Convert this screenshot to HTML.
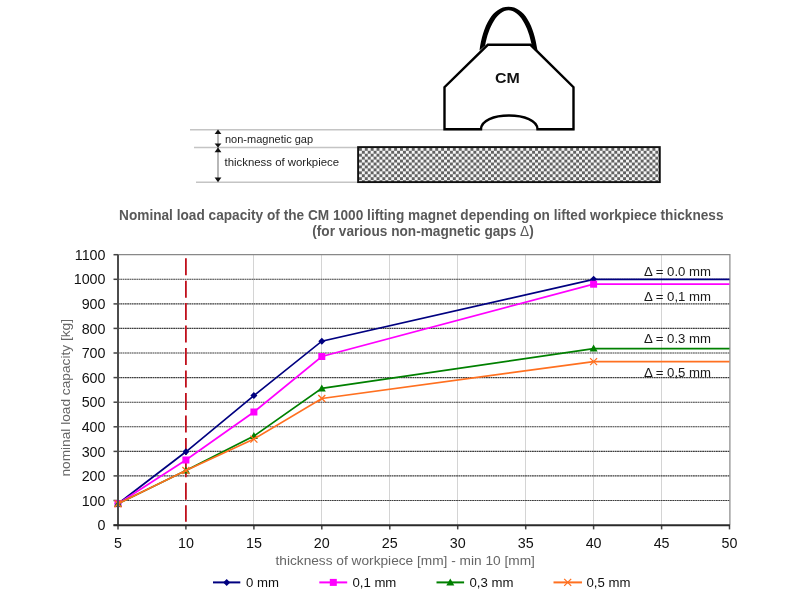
<!DOCTYPE html>
<html><head><meta charset="utf-8"><style>
html,body{margin:0;padding:0;background:#fff;width:800px;height:600px;overflow:hidden}
svg{display:block;font-family:"Liberation Sans",sans-serif;will-change:transform}
</style></head><body>
<svg width="800" height="600" viewBox="0 0 800 600">
<rect width="800" height="600" fill="#fff"/>

<defs>
<pattern id="chk" x="0.86" y="4.04" width="5.87" height="5.87" patternUnits="userSpaceOnUse">
<rect width="5.87" height="5.87" fill="#626262"/>
<rect x="0" y="0" width="2.935" height="2.935" fill="#f6f6f6"/>
<rect x="2.935" y="2.935" width="2.935" height="2.935" fill="#f6f6f6"/>
</pattern>
</defs>
<line x1="190" y1="129.8" x2="574" y2="129.8" stroke="#c4c4c4" stroke-width="1.4"/>
<line x1="194" y1="147.5" x2="358" y2="147.5" stroke="#c4c4c4" stroke-width="1.4"/>
<line x1="196" y1="182.3" x2="358" y2="182.3" stroke="#c4c4c4" stroke-width="1.4"/>
<line x1="218" y1="132" x2="218" y2="180" stroke="#888" stroke-width="1.2"/>
<path d="M218 129.6L214.6 134L221.4 134Z" fill="#111"/>
<path d="M218 147.5L214.6 143.6L221.4 143.6Z" fill="#111"/>
<path d="M218 147.5L214.6 152.2L221.4 152.2Z" fill="#111"/>
<path d="M218 182.2L214.6 177.5L221.4 177.5Z" fill="#111"/>
<text x="225" y="143" font-size="11" fill="#222">non-magnetic gap</text>
<text x="224.5" y="166.3" font-size="11.4" fill="#222">thickness of workpiece</text>
<rect x="358.1" y="147.1" width="301.7" height="35" fill="url(#chk)" stroke="#111" stroke-width="1.9"/>
<path d="M444.5 129.3 L444.5 87.2 L487.8 44.8 L530.5 44.8 L573.5 87.2 L573.5 129.3 L537.5 129.3 C537.5 120.5 524 115.5 509 115.5 C494 115.5 481 120.5 481 129.3 Z" fill="#fff" stroke="#000" stroke-width="2.4" stroke-linejoin="miter"/>
<path fill-rule="evenodd" fill="#000" d="M479.5 50.5 C483 26 492.5 6.8 508.5 6.8 C524.5 6.8 534 26 537.5 50.5 L531.8 45.5 C528.5 27 519.5 10.3 508.5 10.3 C497.5 10.3 488.5 27 485.2 45.5 Z"/>
<text transform="translate(507.4 82.75) scale(1.1 1)" font-size="14.5" font-weight="bold" fill="#111" text-anchor="middle">CM</text>

<text transform="translate(421.3 219.8) scale(0.962 1)" font-size="14.2" font-weight="bold" fill="#595959" text-anchor="middle">Nominal load capacity of the CM 1000 lifting magnet depending on lifted workpiece thickness</text>
<text transform="translate(423 235.6) scale(0.962 1)" font-size="14.2" font-weight="bold" fill="#595959" text-anchor="middle">(for various non-magnetic gaps <tspan font-weight="normal">Δ</tspan>)</text>
<line x1="253.5" y1="254.7" x2="253.5" y2="525" stroke="#d4d4d4" stroke-width="1"/>
<line x1="321.5" y1="254.7" x2="321.5" y2="525" stroke="#d4d4d4" stroke-width="1"/>
<line x1="389.5" y1="254.7" x2="389.5" y2="525" stroke="#d4d4d4" stroke-width="1"/>
<line x1="457.5" y1="254.7" x2="457.5" y2="525" stroke="#d4d4d4" stroke-width="1"/>
<line x1="525.5" y1="254.7" x2="525.5" y2="525" stroke="#d4d4d4" stroke-width="1"/>
<line x1="593.5" y1="254.7" x2="593.5" y2="525" stroke="#d4d4d4" stroke-width="1"/>
<line x1="661.5" y1="254.7" x2="661.5" y2="525" stroke="#d4d4d4" stroke-width="1"/>
<line x1="118" y1="500.5" x2="729.9" y2="500.5" stroke="#3c3c3c" stroke-width="1.1" stroke-dasharray="1.8 0.5"/>
<line x1="118" y1="475.9" x2="729.9" y2="475.9" stroke="#3c3c3c" stroke-width="1.1" stroke-dasharray="1.8 0.5"/>
<line x1="118" y1="451.4" x2="729.9" y2="451.4" stroke="#3c3c3c" stroke-width="1.1" stroke-dasharray="1.8 0.5"/>
<line x1="118" y1="426.8" x2="729.9" y2="426.8" stroke="#3c3c3c" stroke-width="1.1" stroke-dasharray="1.8 0.5"/>
<line x1="118" y1="402.2" x2="729.9" y2="402.2" stroke="#3c3c3c" stroke-width="1.1" stroke-dasharray="1.8 0.5"/>
<line x1="118" y1="377.6" x2="729.9" y2="377.6" stroke="#3c3c3c" stroke-width="1.1" stroke-dasharray="1.8 0.5"/>
<line x1="118" y1="353.0" x2="729.9" y2="353.0" stroke="#3c3c3c" stroke-width="1.1" stroke-dasharray="1.8 0.5"/>
<line x1="118" y1="328.4" x2="729.9" y2="328.4" stroke="#3c3c3c" stroke-width="1.1" stroke-dasharray="1.8 0.5"/>
<line x1="118" y1="303.9" x2="729.9" y2="303.9" stroke="#3c3c3c" stroke-width="1.1" stroke-dasharray="1.8 0.5"/>
<line x1="118" y1="279.3" x2="729.9" y2="279.3" stroke="#3c3c3c" stroke-width="1.1" stroke-dasharray="1.8 0.5"/>
<path d="M118 254.7H729.9V525" fill="none" stroke="#888" stroke-width="1.2"/>
<line x1="185.9" y1="258.2" x2="185.9" y2="521.8" stroke="#c0101c" stroke-width="1.8" stroke-dasharray="17 5.46"/>
<line x1="113.5" y1="525.1" x2="118" y2="525.1" stroke="#444" stroke-width="1.5"/>
<text x="105.5" y="530.2" font-size="14.3" fill="#111" text-anchor="end">0</text>
<line x1="113.5" y1="500.5" x2="118" y2="500.5" stroke="#444" stroke-width="1.5"/>
<text x="105.5" y="505.6" font-size="14.3" fill="#111" text-anchor="end">100</text>
<line x1="113.5" y1="475.9" x2="118" y2="475.9" stroke="#444" stroke-width="1.5"/>
<text x="105.5" y="481.0" font-size="14.3" fill="#111" text-anchor="end">200</text>
<line x1="113.5" y1="451.4" x2="118" y2="451.4" stroke="#444" stroke-width="1.5"/>
<text x="105.5" y="456.5" font-size="14.3" fill="#111" text-anchor="end">300</text>
<line x1="113.5" y1="426.8" x2="118" y2="426.8" stroke="#444" stroke-width="1.5"/>
<text x="105.5" y="431.9" font-size="14.3" fill="#111" text-anchor="end">400</text>
<line x1="113.5" y1="402.2" x2="118" y2="402.2" stroke="#444" stroke-width="1.5"/>
<text x="105.5" y="407.3" font-size="14.3" fill="#111" text-anchor="end">500</text>
<line x1="113.5" y1="377.6" x2="118" y2="377.6" stroke="#444" stroke-width="1.5"/>
<text x="105.5" y="382.7" font-size="14.3" fill="#111" text-anchor="end">600</text>
<line x1="113.5" y1="353.0" x2="118" y2="353.0" stroke="#444" stroke-width="1.5"/>
<text x="105.5" y="358.1" font-size="14.3" fill="#111" text-anchor="end">700</text>
<line x1="113.5" y1="328.4" x2="118" y2="328.4" stroke="#444" stroke-width="1.5"/>
<text x="105.5" y="333.5" font-size="14.3" fill="#111" text-anchor="end">800</text>
<line x1="113.5" y1="303.9" x2="118" y2="303.9" stroke="#444" stroke-width="1.5"/>
<text x="105.5" y="309.0" font-size="14.3" fill="#111" text-anchor="end">900</text>
<line x1="113.5" y1="279.3" x2="118" y2="279.3" stroke="#444" stroke-width="1.5"/>
<text x="105.5" y="284.4" font-size="14.3" fill="#111" text-anchor="end">1000</text>
<line x1="113.5" y1="254.7" x2="118" y2="254.7" stroke="#444" stroke-width="1.5"/>
<text x="105.5" y="259.8" font-size="14.3" fill="#111" text-anchor="end">1100</text>
<line x1="118.0" y1="525" x2="118.0" y2="529.4" stroke="#444" stroke-width="1.5"/>
<text x="118.0" y="547.8" font-size="14.3" fill="#111" text-anchor="middle">5</text>
<line x1="185.9" y1="525" x2="185.9" y2="529.4" stroke="#444" stroke-width="1.5"/>
<text x="185.9" y="547.8" font-size="14.3" fill="#111" text-anchor="middle">10</text>
<line x1="253.9" y1="525" x2="253.9" y2="529.4" stroke="#444" stroke-width="1.5"/>
<text x="253.9" y="547.8" font-size="14.3" fill="#111" text-anchor="middle">15</text>
<line x1="321.8" y1="525" x2="321.8" y2="529.4" stroke="#444" stroke-width="1.5"/>
<text x="321.8" y="547.8" font-size="14.3" fill="#111" text-anchor="middle">20</text>
<line x1="389.8" y1="525" x2="389.8" y2="529.4" stroke="#444" stroke-width="1.5"/>
<text x="389.8" y="547.8" font-size="14.3" fill="#111" text-anchor="middle">25</text>
<line x1="457.7" y1="525" x2="457.7" y2="529.4" stroke="#444" stroke-width="1.5"/>
<text x="457.7" y="547.8" font-size="14.3" fill="#111" text-anchor="middle">30</text>
<line x1="525.7" y1="525" x2="525.7" y2="529.4" stroke="#444" stroke-width="1.5"/>
<text x="525.7" y="547.8" font-size="14.3" fill="#111" text-anchor="middle">35</text>
<line x1="593.6" y1="525" x2="593.6" y2="529.4" stroke="#444" stroke-width="1.5"/>
<text x="593.6" y="547.8" font-size="14.3" fill="#111" text-anchor="middle">40</text>
<line x1="661.6" y1="525" x2="661.6" y2="529.4" stroke="#444" stroke-width="1.5"/>
<text x="661.6" y="547.8" font-size="14.3" fill="#111" text-anchor="middle">45</text>
<line x1="729.5" y1="525" x2="729.5" y2="529.4" stroke="#444" stroke-width="1.5"/>
<text x="729.5" y="547.8" font-size="14.3" fill="#111" text-anchor="middle">50</text>
<path d="M118.0 503.7L185.9 451.8L253.9 395.6L321.8 341.2L593.6 279.3L729.5 279.3" fill="none" stroke="#000080" stroke-width="1.7"/>
<path d="M118.0 500.2L121.5 503.7L118.0 507.2L114.5 503.7Z" fill="#000080"/>
<path d="M185.9 448.3L189.4 451.8L185.9 455.3L182.4 451.8Z" fill="#000080"/>
<path d="M253.9 392.1L257.4 395.6L253.9 399.1L250.4 395.6Z" fill="#000080"/>
<path d="M321.8 337.7L325.3 341.2L321.8 344.7L318.3 341.2Z" fill="#000080"/>
<path d="M593.6 275.8L597.1 279.3L593.6 282.8L590.1 279.3Z" fill="#000080"/>
<path d="M118.0 503.7L185.9 460.0L253.9 412.0L321.8 356.5L593.6 284.2L729.5 284.2" fill="none" stroke="#ff00ff" stroke-width="1.7"/>
<rect x="114.5" y="500.2" width="7" height="7" fill="#ff00ff"/>
<rect x="182.4" y="456.5" width="7" height="7" fill="#ff00ff"/>
<rect x="250.4" y="408.5" width="7" height="7" fill="#ff00ff"/>
<rect x="318.3" y="353.0" width="7" height="7" fill="#ff00ff"/>
<rect x="590.1" y="280.7" width="7" height="7" fill="#ff00ff"/>
<path d="M118.0 503.7L185.9 470.5L253.9 436.1L321.8 388.4L593.6 348.6L729.5 348.6" fill="none" stroke="#008000" stroke-width="1.7"/>
<path d="M118.0 499.7L122.0 506.7L114.0 506.7Z" fill="#008000"/>
<path d="M185.9 466.5L189.9 473.5L181.9 473.5Z" fill="#008000"/>
<path d="M253.9 432.1L257.9 439.1L249.9 439.1Z" fill="#008000"/>
<path d="M321.8 384.4L325.8 391.4L317.8 391.4Z" fill="#008000"/>
<path d="M593.6 344.6L597.6 351.6L589.6 351.6Z" fill="#008000"/>
<path d="M118.0 503.7L185.9 470.5L253.9 439.1L321.8 398.5L593.6 361.6L729.5 361.6" fill="none" stroke="#ff7020" stroke-width="1.7"/>
<path d="M114.5 500.2L121.5 507.2M121.5 500.2L114.5 507.2" stroke="#ff7020" stroke-width="1.3"/>
<path d="M182.4 467.0L189.4 474.0M189.4 467.0L182.4 474.0" stroke="#ff7020" stroke-width="1.3"/>
<path d="M250.4 435.6L257.4 442.6M257.4 435.6L250.4 442.6" stroke="#ff7020" stroke-width="1.3"/>
<path d="M318.3 395.0L325.3 402.0M325.3 395.0L318.3 402.0" stroke="#ff7020" stroke-width="1.3"/>
<path d="M590.1 358.1L597.1 365.1M597.1 358.1L590.1 365.1" stroke="#ff7020" stroke-width="1.3"/>
<line x1="118" y1="254.7" x2="118" y2="525.4" stroke="#4c4c4c" stroke-width="2"/>
<line x1="113.5" y1="525.3" x2="729.9" y2="525.3" stroke="#2a2a2a" stroke-width="2"/>
<text x="644" y="275.5" font-size="13.2" fill="#1a1a1a">Δ = 0.0 mm</text>
<text x="644" y="301.3" font-size="13.2" fill="#1a1a1a">Δ = 0,1 mm</text>
<text x="644" y="343.2" font-size="13.2" fill="#1a1a1a">Δ = 0.3 mm</text>
<text x="644" y="376.8" font-size="13.2" fill="#1a1a1a">Δ = 0,5 mm</text>
<text x="405.2" y="565" font-size="13.7" fill="#666" text-anchor="middle">thickness of workpiece [mm] - min 10 [mm]</text>
<text transform="translate(69.7 397.8) rotate(-90)" font-size="13.7" fill="#666" text-anchor="middle">nominal load capacity [kg]</text>
<line x1="213" y1="582.4" x2="240.3" y2="582.4" stroke="#000080" stroke-width="2"/>
<path d="M226.7 578.9L230.2 582.4L226.7 585.9L223.2 582.4Z" fill="#000080"/>
<text x="246" y="587.3" font-size="13.2" fill="#111">0 mm</text>
<line x1="319.3" y1="582.4" x2="347.2" y2="582.4" stroke="#ff00ff" stroke-width="2"/>
<rect x="329.8" y="578.9" width="7" height="7" fill="#ff00ff"/>
<text x="352.4" y="587.3" font-size="13.2" fill="#111">0,1 mm</text>
<line x1="436.5" y1="582.4" x2="464.1" y2="582.4" stroke="#008000" stroke-width="2"/>
<path d="M450.3 578.4L454.3 585.4L446.3 585.4Z" fill="#008000"/>
<text x="469.5" y="587.3" font-size="13.2" fill="#111">0,3 mm</text>
<line x1="553.5" y1="582.4" x2="582" y2="582.4" stroke="#ff7020" stroke-width="2"/>
<path d="M564.2 578.9L571.2 585.9M571.2 578.9L564.2 585.9" stroke="#ff7020" stroke-width="1.3"/>
<text x="586.5" y="587.3" font-size="13.2" fill="#111">0,5 mm</text>
</svg>
</body></html>
